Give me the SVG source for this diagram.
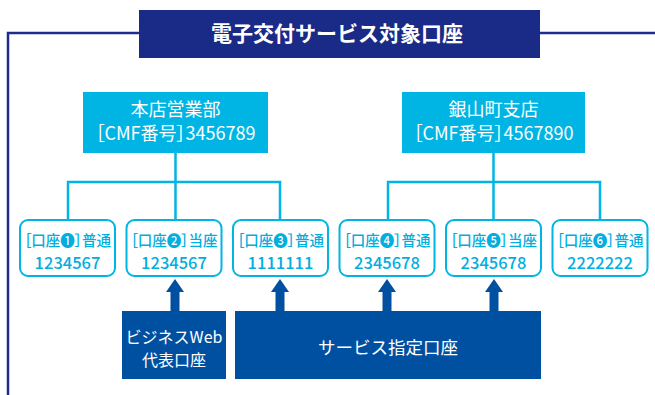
<svg xmlns="http://www.w3.org/2000/svg" width="655" height="395" viewBox="0 0 655 395">
<defs>
<style>
text{font-family:"Noto Sans CJK JP","Noto Sans",sans-serif;text-anchor:middle}
.frame{fill:none;stroke:#1e2d8c;stroke-width:2.5}
.title{fill:#1a2a87}
.tt{fill:#fff;font-size:21px;font-weight:bold}
.br{fill:#00b5e3}
.bt{fill:#fff;font-size:18px;font-feature-settings:"palt"}
.conn{fill:none;stroke:#00b5e3;stroke-width:2.5}
.acc{fill:#fff;stroke:#00b5e3;stroke-width:2}
.at{fill:#00aee0;font-size:14.5px;font-weight:500;font-feature-settings:"palt"}
.an{fill:#00aee0;font-size:16.5px;font-weight:500}
.db{fill:#0050a2}
.dt{fill:#fff;font-size:16px}
.dt2{fill:#fff;font-size:17.5px}
</style>
</defs>
<path class="frame" d="M8,395 V33 H140 M539,33 H655"/>
<g id="title"><rect class="title" x="139" y="10" width="401" height="48"/><text class="tt" x="337" y="41">電子交付サービス対象口座</text></g>
<g id="connectors">
<path class="conn" d="M175.5,153 V220 M68,220 V182 H280 V220"/>
<path class="conn" d="M493.5,153 V220 M388,220 V182 H600 V220"/>
<g fill="#0050a2">
<path d="M170.5,311 V292 H166 L175,279 L184,292 H179.5 V311 Z"/>
<path d="M275.5,311 V292 H271 L280,279 L289,292 H284.5 V311 Z"/>
<path d="M382.5,311 V292 H378 L387,279 L396,292 H391.5 V311 Z"/>
<path d="M489.5,311 V292 H485 L494,279 L503,292 H498.5 V311 Z"/>
</g>
</g>
<g id="honten"><rect class="br" x="83" y="92" width="185" height="61"/><text class="bt" x="175.5" y="116">本店営業部</text><text class="bt" x="175.5" y="140">［CMF番号］3456789</text></g>
<g id="ginza"><rect class="br" x="402" y="92" width="183" height="61"/><text class="bt" x="493.5" y="116">銀山町支店</text><text class="bt" x="493.5" y="140">［CMF番号］4567890</text></g>
<g id="acc1"><rect class="acc" x="20" y="220" width="95" height="56" rx="8"/><text class="at" x="67.5" y="246">［口座❶］普通</text><text class="an" x="67.5" y="269">1234567</text></g>
<g id="acc2"><rect class="acc" x="126.5" y="220" width="95" height="56" rx="8"/><text class="at" x="174" y="246">［口座❷］当座</text><text class="an" x="174" y="269">1234567</text></g>
<g id="acc3"><rect class="acc" x="233" y="220" width="95" height="56" rx="8"/><text class="at" x="280.5" y="246">［口座❸］普通</text><text class="an" x="280.5" y="269">1111111</text></g>
<g id="acc4"><rect class="acc" x="339.5" y="220" width="95" height="56" rx="8"/><text class="at" x="387" y="246">［口座❹］普通</text><text class="an" x="387" y="269">2345678</text></g>
<g id="acc5"><rect class="acc" x="446" y="220" width="95" height="56" rx="8"/><text class="at" x="493.5" y="246">［口座❺］当座</text><text class="an" x="493.5" y="269">2345678</text></g>
<g id="acc6"><rect class="acc" x="552.5" y="220" width="95" height="56" rx="8"/><text class="at" x="600" y="246">［口座❻］普通</text><text class="an" x="600" y="269">2222222</text></g>
<g id="bizweb"><rect class="db" x="122" y="311" width="104" height="68"/><text class="dt" x="174" y="343">ビジネスWeb</text><text class="dt" x="174" y="366">代表口座</text></g>
<g id="service"><rect class="db" x="235" y="311" width="306" height="68"/><text class="dt2" x="388" y="354">サービス指定口座</text></g>
</svg>
